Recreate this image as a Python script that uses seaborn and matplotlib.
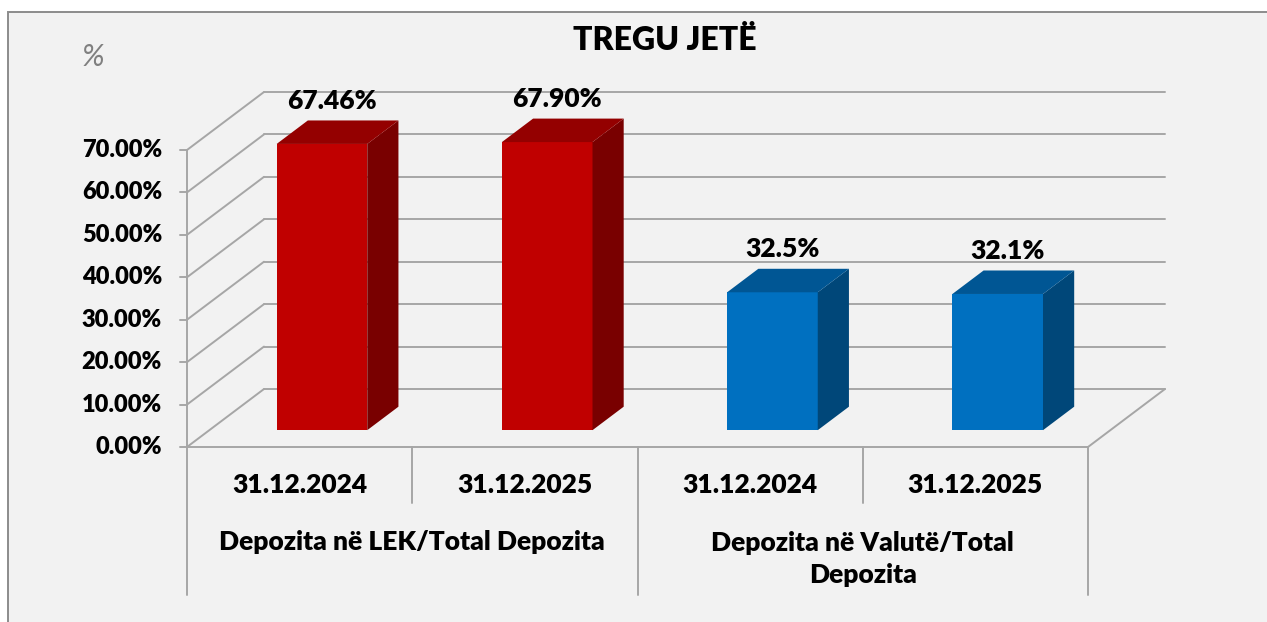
import numpy as np
import pandas as pd
import matplotlib
matplotlib.use("Agg")
import matplotlib.pyplot as plt
import seaborn as sns
from matplotlib.patches import Polygon, Rectangle
from matplotlib.colors import to_rgb

# ==========================================
# Te dhenat
# ==========================================
grupet = ["Depozita në LEK/Total Depozita", "Depozita në Valutë/Total\nDepozita"]
grupi_bar = [grupet[0], grupet[0], grupet[1], grupet[1]]
datat = ["31.12.2024", "31.12.2025", "31.12.2024", "31.12.2025"]
vlerat = [67.46, 67.90, 32.5, 32.1]
etiketat = ["67.46%", "67.90%", "32.5%", "32.1%"]
y_ticks = [0, 10, 20, 30, 40, 50, 60, 70]
ngjyrat = {grupet[0]: "#c00000", grupet[1]: "#0070c0"}

# ==========================================
# Gjeometria (pixel -> njesi te te dhenave)
# ==========================================
W, H = 1267, 622
X_LEFT, CAT_W = 187, 225.25   # fillimi i boshtit dhe gjeresia e kategorise (px)
Y0, PX_PER = 447, 4.243       # 0% ne px, px per 1%
DX, DY = 77 / CAT_W, 58 / PX_PER   # thellesia e plote 3D
F0, FD = 0.29, 0.405          # pozicioni dhe thellesia e shtyllave
BAR_W = 90.6 / CAT_W
GRID = "#a6a6a6"
FW = "heavy"


def px_x(px):
    return (px - X_LEFT) / CAT_W - 0.5


def px_y(py):
    return (Y0 - py) / PX_PER


sns.set_theme(style="white")
plt.rcParams["font.family"] = ["Lato", "DejaVu Sans"]

df = pd.DataFrame({
    "kyc": [f"{g}|{d}" for g, d in zip(grupi_bar, datat)],
    "grupi": grupi_bar,
    "data": datat,
    "vlera": vlerat,
})

fig = plt.figure(figsize=(W / 100, H / 100), dpi=100, facecolor="white")
ax = fig.add_axes([0, 0, 1, 1])

sns.barplot(data=df, x="kyc", y="vlera", hue="grupi", palette=ngjyrat,
            dodge=False, width=BAR_W, legend=False, linewidth=0,
            saturation=1, ax=ax, zorder=3)
bars = [p for p in ax.patches if p.get_height() > 0]

ax.set_xlim(px_x(0), px_x(W))
ax.set_ylim(px_y(H), px_y(0))
ax.set_axis_off()

# sfondi i grafikut
ax.add_patch(Rectangle((8 / W, -0.1), 1.2, 1.1 - 12 / H, transform=ax.transAxes,
                       facecolor="#f2f2f2", edgecolor="#8c8c8c", lw=1.4,
                       clip_on=False, zorder=0))

x0, x1 = -0.5, len(vlerat) - 0.5

# muret e pasme dhe majtas me vijat e rrjetit
for t in y_ticks:
    ax.plot([x0 + DX, x1 + DX], [t + DY, t + DY], color=GRID, lw=1.4, zorder=1)
    ax.plot([x0, x0 + DX], [t, t + DY], color=GRID, lw=1.4, zorder=1)
    ax.plot([x0 - 7 / CAT_W, x0], [t, t], color=GRID, lw=1.4, zorder=1)
    ax.text(x0 - 25 / CAT_W, t, f"{t:.2f}%", ha="right", va="center",
            fontsize=17, fontweight=FW, color="black")

# boshti vertikal dhe dyshemeja
ax.plot([x0, x0], [0, y_ticks[-1]], color=GRID, lw=1.4, zorder=1)
ax.plot([x0, x1], [0, 0], color=GRID, lw=1.4, zorder=1)
ax.plot([x1, x1 + DX], [0, DY], color=GRID, lw=1.4, zorder=1)

# shtyllat 3D: zhvendosja ne thellesi + faqet anesore dhe siper
for p in bars:
    h = p.get_height()
    p.set_x(p.get_x() + F0 * DX)
    p.set_y(F0 * DY)
    xl, xr = p.get_x(), p.get_x() + p.get_width()
    b, t = F0 * DY, F0 * DY + h
    rgb = np.array(to_rgb(p.get_facecolor()))
    ddx, ddy = FD * DX, FD * DY
    ax.add_patch(Polygon([(xr, b), (xr + ddx, b + ddy), (xr + ddx, t + ddy), (xr, t)],
                         closed=True, facecolor=rgb * 0.63, lw=0, zorder=3))
    ax.add_patch(Polygon([(xl, t), (xr, t), (xr + ddx, t + ddy), (xl + ddx, t + ddy)],
                         closed=True, facecolor=rgb * 0.77, lw=0, zorder=3))

# etiketat e vlerave
for i, (v, lab) in enumerate(zip(vlerat, etiketat)):
    xc = i + F0 * DX
    ax.annotate(lab, (xc, F0 * DY + v), xytext=(10, 43), textcoords="offset pixels",
                ha="center", va="center", fontsize=19, fontweight=FW,
                color="black", zorder=5)

# boshti i kategorive me dy nivele
for i in range(len(datat) + 1):
    gjatesia = px_y(595) if i % 2 == 0 else px_y(503)
    ax.plot([x0 + i, x0 + i], [0, gjatesia], color=GRID, lw=1.4, zorder=1)
for i, d in enumerate(datat):
    ax.text(i, px_y(485), d, ha="center", va="center", fontsize=19,
            fontweight=FW, color="black")
for j, g in enumerate(grupet):
    ax.text(2 * j + 0.5, px_y(559) if "\n" in g else px_y(541.7), g,
            ha="center", va="center", fontsize=19, fontweight=FW,
            color="black", linespacing=1.42)

# titulli dhe njesia
fig.text(665 / W, 1 - 40 / H, "TREGU JETË", ha="center", va="center",
         fontsize=23, fontweight=FW, color="black")
fig.text(93 / W, 1 - 57 / H, "%", ha="center", va="center", fontsize=22,
         fontstyle="italic", color="#808080")

fig.savefig("out.png", dpi=100, facecolor="white")
